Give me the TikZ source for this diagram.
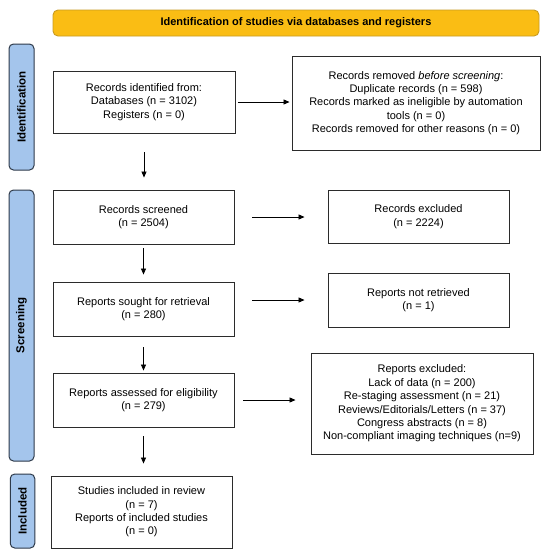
\documentclass[tikz,border=0pt]{standalone}
\usepackage{fontspec}
\setmainfont{Liberation Sans}
\usetikzlibrary{arrows.meta}
\definecolor{hdrfill}{HTML}{FABD14}
\definecolor{hdrdraw}{HTML}{C89B22}
\definecolor{lblfill}{HTML}{A4C5EC}
\definecolor{lbldraw}{HTML}{2E3A4A}
\definecolor{boxdraw}{HTML}{2B2B2B}
\tikzset{
  x=1pt, y=-1pt,
  txt/.style={font=\fontsize{11}{13.4}\selectfont, align=center},
  flowbox/.style={txt, draw=boxdraw, line width=0.9pt, fill=white, inner sep=0pt},
  header/.style={draw=hdrdraw, fill=hdrfill, rounded corners=5pt, line width=0.9pt,
    font=\fontsize{11}{13.4}\selectfont\bfseries, inner sep=0pt},
  phase/.style={draw=lbldraw, fill=lblfill, rounded corners=4.5pt, line width=1pt,
    rotate=90, font=\fontsize{11.5}{13.4}\selectfont\bfseries, inner sep=0pt},
  arr/.style={-{Triangle[length=6pt,width=5pt]}, line width=0.8pt, draw=black},
}
\begin{document}
\begin{tikzpicture}
\useasboundingbox[fill=white] (0,0) rectangle (548,550);

\node[header, minimum width=486pt, minimum height=26pt] (hdr) at (296,23) {Identification of studies via databases and registers};

\node[phase, minimum width=126pt, minimum height=25pt] (pid) at (21.5,107) {Identification};
\node[phase, minimum width=271pt, minimum height=25pt] (pscr) at (21.5,325.5) {Screening};
\node[phase, minimum width=74pt, minimum height=24.5pt] (pinc) at (22.5,511) {Included};

\node[flowbox, minimum width=182pt, minimum height=62pt] (idb) at (144,102)
  {Records identified from:\\Databases (n = 3102)\\Registers (n = 0)};
\node[flowbox, minimum width=248pt, minimum height=94pt] (rem) at (416,103)
  {Records removed \textit{before screening}:\\Duplicate records (n = 598)\\Records marked as ineligible by automation\\tools (n = 0)\\Records removed for other reasons (n = 0)};

\node[flowbox, minimum width=181pt, minimum height=54pt] (scr) at (143.5,217)
  {Records screened\\(n = 2504)};
\node[flowbox, minimum width=181pt, minimum height=53pt] (exc) at (418.5,216.5)
  {Records excluded\\(n = 2224)};

\node[flowbox, minimum width=181pt, minimum height=54pt] (sou) at (143.5,309)
  {Reports sought for retrieval\\(n = 280)};
\node[flowbox, minimum width=181pt, minimum height=54pt] (nr) at (418.5,300)
  {Reports not retrieved\\(n = 1)};

\node[flowbox, minimum width=181pt, minimum height=54pt] (ass) at (143.5,400)
  {Reports assessed for eligibility\\(n = 279)};
\node[flowbox, minimum width=222pt, minimum height=101pt] (ex2) at (422,403.5)
  {Reports excluded:\\Lack of data (n = 200)\\Re-staging assessment (n = 21)\\Reviews/Editorials/Letters (n = 37)\\Congress abstracts (n = 8)\\Non-compliant imaging techniques (n=9)};

\node[flowbox, minimum width=181pt, minimum height=72pt] (inc) at (141.5,512)
  {Studies included in review\\(n = 7)\\Reports of included studies\\(n = 0)};

\draw[arr, shorten <=2.5pt, shorten >=2pt] (idb.east) -- (idb.east -| rem.west);
\draw[arr, shorten <=19pt, shorten >=12pt] (idb.south) -- (idb.south |- scr.north);
\draw[arr, shorten <=18pt, shorten >=23pt] (scr.east) -- (scr.east -| exc.west);
\draw[arr, shorten <=4pt, shorten >=7pt] (scr.south) -- (sou.north);
\draw[arr, shorten <=18pt, shorten >=23pt] (sou.east |- nr.west) -- (nr.west);
\draw[arr, shorten <=11pt, shorten >=2pt] (sou.south) -- (ass.north);
\draw[arr, shorten <=9pt, shorten >=15pt] (ass.east) -- (ass.east -| ex2.west);
\draw[arr, shorten <=9pt, shorten >=12pt] (ass.south) -- (ass.south |- inc.north);
\end{tikzpicture}
\end{document}
